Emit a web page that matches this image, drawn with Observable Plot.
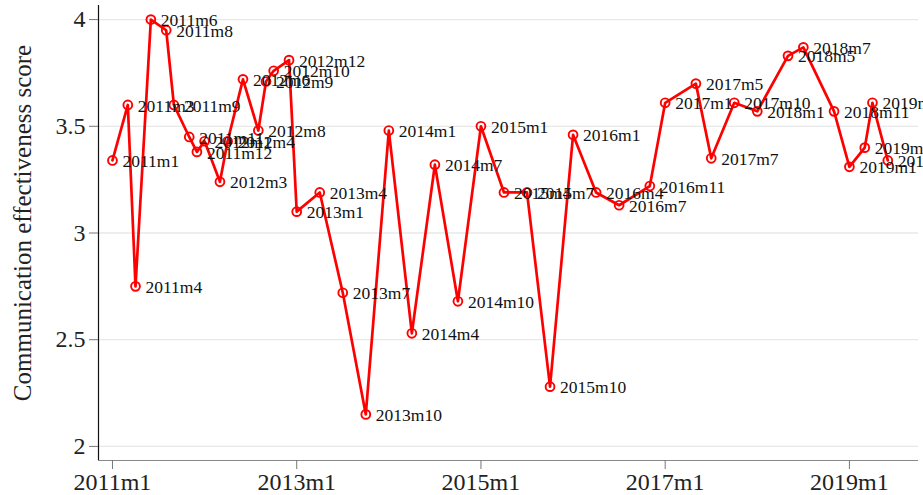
<!DOCTYPE html>
<html>
<head>
<meta charset="utf-8">
<script src="https://cdn.jsdelivr.net/npm/d3@7"></script>
<script src="https://cdn.jsdelivr.net/npm/@observablehq/plot@0.6"></script>
<style>
  html, body { margin: 0; padding: 0; background: #fff; }
  #chart svg { display: block; }
  #chart svg, #chart svg text { font-family: "Liberation Serif", "Times New Roman", serif !important; }
</style>
</head>
<body>
<div id="chart"></div>
<script>
const periods = ["2011m1","2011m3","2011m4","2011m6","2011m8","2011m9","2011m11","2011m12",
  "2012m1","2012m3","2012m4","2012m6","2012m8","2012m9","2012m10","2012m12",
  "2013m1","2013m4","2013m7","2013m10","2014m1","2014m4","2014m7","2014m10",
  "2015m1","2015m4","2015m7","2015m10","2016m1","2016m4","2016m7","2016m11",
  "2017m1","2017m5","2017m7","2017m10","2018m1","2018m5","2018m7","2018m11",
  "2019m1","2019m3","2019m4","2019m6"];
const scores = [3.34, 3.60, 2.75, 4.00, 3.95, 3.60, 3.45, 3.38,
  3.43, 3.24, 3.43, 3.72, 3.48, 3.71, 3.76, 3.81,
  3.10, 3.19, 2.72, 2.15, 3.48, 2.53, 3.32, 2.68,
  3.50, 3.19, 3.19, 2.28, 3.46, 3.19, 3.13, 3.22,
  3.61, 3.70, 3.35, 3.61, 3.57, 3.83, 3.87, 3.57,
  3.31, 3.40, 3.61, 3.34];
const xTickLabels = ["2011m1","2013m1","2015m1","2017m1","2019m1"];
const yTicks = [2, 2.5, 3, 3.5, 4];
const yTitle = "Communication effectiveness score";

const toIndex = s => { const [y, m] = s.split("m").map(Number); return (y - 2011) * 12 + (m - 1); };
const data = periods.map((p, i) => ({period: p, t: toIndex(p), score: scores[i]}));
const xTicks = xTickLabels.map(toIndex);
const xFmt = new Map(xTicks.map((t, i) => [t, xTickLabels[i]]));

const xDomain = [-1.82, 105.0];
const yDomain = [1.934, 4.066];
const serif = "Liberation Serif";

const chart = Plot.plot({
  width: 923,
  height: 495,
  marginTop: 5,
  marginBottom: 35,
  marginLeft: 98,
  marginRight: 5,
  x: {domain: xDomain},
  y: {domain: yDomain},
  marks: [
    Plot.ruleY(yTicks, {stroke: "#e8e8e8", strokeWidth: 1.3}),
    Plot.ruleX([xDomain[0]], {stroke: "#111", strokeWidth: 1.2}),
    Plot.ruleY([yDomain[0]], {stroke: "#888", strokeWidth: 1.2}),
    Plot.axisY({ticks: yTicks, tickFormat: d => String(d), tickSize: 9, tickPadding: 4,
      fontSize: 24, fontFamily: serif, stroke: "#777", color: "#222", label: null}),
    Plot.axisX({ticks: xTicks, tickFormat: d => xFmt.get(d), tickSize: 9, tickPadding: 3,
      fontSize: 24, fontFamily: serif, stroke: "#777", color: "#222", label: null}),
    Plot.text([yTitle], {frameAnchor: "left", textAnchor: "middle", rotate: -90, dx: -76, dy: -10,
      fontSize: 25, fontFamily: serif, fill: "#222"}),
    Plot.line(data, {x: "t", y: "score", stroke: "#ff0000", strokeWidth: 2.7, strokeLinejoin: "round"}),
    Plot.dot(data, {x: "t", y: "score", r: 4.4, stroke: "#ff0000", strokeWidth: 1.9, fill: "none"}),
    Plot.text(data, {x: "t", y: "score", text: "period", textAnchor: "start", dx: 10, dy: 1,
      fontSize: 17.5, fontFamily: serif, fill: "#111"})
  ]
});
document.getElementById("chart").appendChild(chart);
</script>
</body>
</html>
